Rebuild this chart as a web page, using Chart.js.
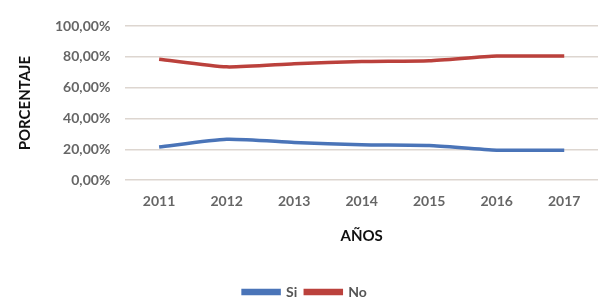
<!DOCTYPE html>
<html>
<head>
<meta charset="utf-8">
<script src="https://cdn.jsdelivr.net/npm/chart.js@4"></script>
<style>
    html, body { margin: 0; padding: 0; background: #fff; }
    #wrap { width: 599px; height: 304px; }
</style>
</head>
<body>
<div id="wrap"><canvas id="lineChart"></canvas></div>
<script>
// Chart data
const years = ['2011', '2012', '2013', '2014', '2015', '2016', '2017'];
const siValues = [21.5, 26.5, 24.5, 23, 22.5, 19.5, 19.5];
const noValues = [78.5, 73.5, 75.5, 77, 77.5, 80.5, 80.5];
const yTicks = [0, 20, 40, 60, 80, 100];

const tickFont = { family: 'Lato', size: 14, weight: 'bold' };
const titleFont = { family: 'Lato', size: 15, weight: 'bold' };

function pct(v) {
    return v.toFixed(2).replace('.', ',') + '%';
}

const ctx = document.getElementById('lineChart').getContext('2d');
new Chart(ctx, {
    type: 'line',
    data: {
        labels: years,
        datasets: [{
            label: 'Si',
            data: siValues,
            borderColor: '#4a74b8',
            backgroundColor: '#4a74b8',
            borderWidth: 3.5,
            pointRadius: 0,
            tension: 0.2
        }, {
            label: 'No',
            data: noValues,
            borderColor: '#bb413c',
            backgroundColor: '#bb413c',
            borderWidth: 3.5,
            pointRadius: 0,
            tension: 0.2
        }]
    },
    options: {
        responsive: true,
        maintainAspectRatio: false,
        animation: false,
        layout: {
            padding: { left: 12, right: 1, top: 26, bottom: -5 }
        },
        plugins: {
            tooltip: { enabled: false },
            legend: {
                position: 'bottom',
                labels: {
                    color: '#555',
                    font: { family: 'Lato', size: 14, weight: 'bold' },
                    boxWidth: 36,
                    boxHeight: 3,
                    padding: 8
                }
            }
        },
        scales: {
            x: {
                offset: true,
                grid: { display: false, drawBorder: false },
                border: { display: false },
                ticks: { color: '#666', font: tickFont, padding: 5 },
                title: {
                    display: true,
                    text: 'AÑOS',
                    color: '#111',
                    font: titleFont,
                    padding: { top: 12, bottom: 32 }
                }
            },
            y: {
                min: 0,
                max: 100,
                afterBuildTicks: (axis) => {
                    axis.ticks = yTicks.map(v => ({ value: v }));
                },
                grid: { color: '#ddd6d0', lineWidth: 1.5, drawTicks: false },
                border: { display: false },
                ticks: {
                    color: '#666',
                    font: tickFont,
                    padding: 15,
                    callback: (v) => pct(v)
                },
                title: {
                    display: true,
                    text: 'PORCENTAJE',
                    color: '#111',
                    font: titleFont,
                    padding: { bottom: 6 }
                }
            }
        }
    }
});
</script>
</body>
</html>
